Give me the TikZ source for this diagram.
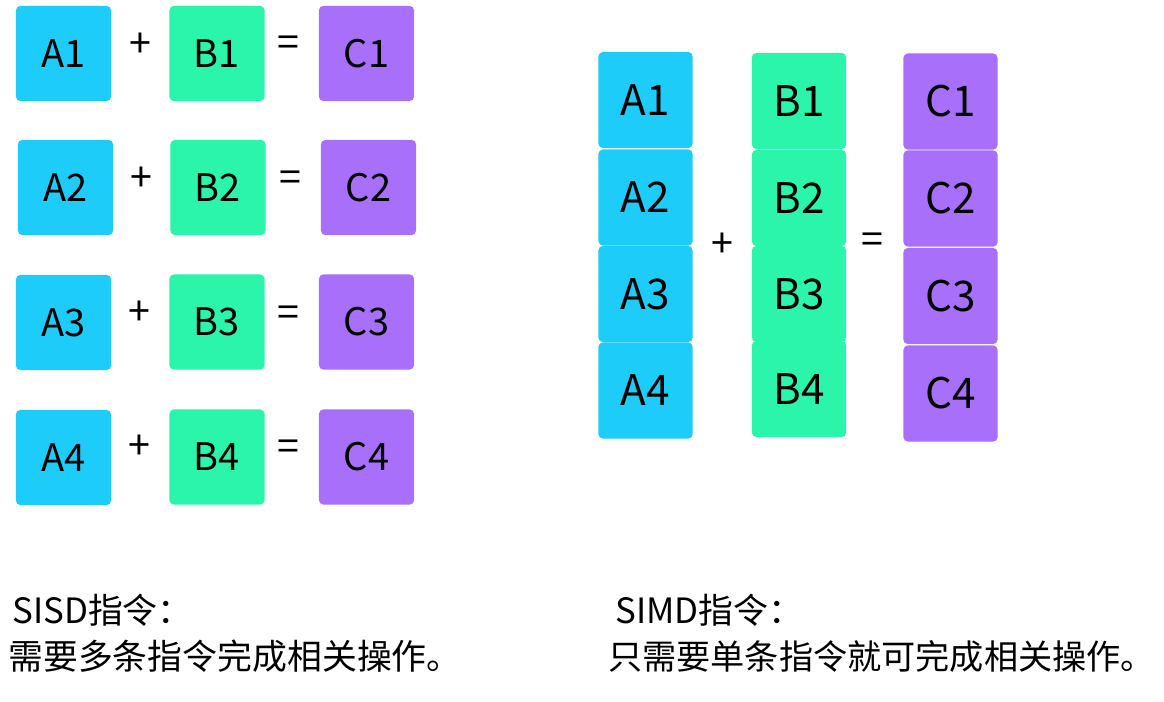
\documentclass[tikz,border=0pt]{standalone}
\usepackage{fontspec}
\setmainfont{Noto Sans CJK SC}
\definecolor{cellA}{RGB}{30,204,250}
\definecolor{cellB}{RGB}{42,245,170}
\definecolor{cellC}{RGB}{168,112,250}
\begin{document}
\begin{tikzpicture}[
	x=0.025cm, y=-0.025cm,
	cell/.style={ rounded corners=3pt, inner sep=0pt, minimum width=2.375cm, minimum height=2.375cm, font=\fontsize{27}{27}\selectfont },
	cellv/.style={ rounded corners=3pt, inner sep=0pt, minimum width=2.35cm, minimum height=2.4cm, font=\fontsize{30}{30}\selectfont },
	cella/.style={ fill=cellA },
	cellb/.style={ fill=cellB },
	cellc/.style={ fill=cellC },
	op/.style={ inner sep=0pt, font=\fontsize{28}{28}\selectfont },
	caption/.style={ anchor=west, inner sep=0pt, font=\fontsize{24.8}{24.8}\selectfont },
	captionr/.style={ anchor=west, inner sep=0pt, font=\fontsize{24.3}{24.3}\selectfont }
]
\useasboundingbox[fill=white] (0,0) rectangle (1164,702);

% SISD: one row per instruction
\node[cell, cella] at (63.5,53.5) (sa1) {A1};
\node[op] at (140,45) (sp1) {+};
\node[cell, cellb] at (217,53.5) (sb1) {B1};
\node[op] at (288,46) (se1) {=};
\node[cell, cellc] at (366.5,53.5) (sc1) {C1};

\node[cell, cella] at (65.5,187.5) (sa2) {A2};
\node[op] at (141,179) (sp2) {+};
\node[cell, cellb] at (218,187.5) (sb2) {B2};
\node[op] at (290,181) (se2) {=};
\node[cell, cellc] at (368.5,187.5) (sc2) {C2};

\node[cell, cella] at (63.5,322.5) (sa3) {A3};
\node[op] at (139,313) (sp3) {+};
\node[cell, cellb] at (217,322) (sb3) {B3};
\node[op] at (288,316) (se3) {=};
\node[cell, cellc] at (366.5,322) (sc3) {C3};

\node[cell, cella] at (63.5,457.5) (sa4) {A4};
\node[op] at (139,447) (sp4) {+};
\node[cell, cellb] at (217,457) (sb4) {B4};
\node[op] at (288,450) (se4) {=};
\node[cell, cellc] at (366.5,457) (sc4) {C4};

% SIMD: whole columns at once
\node[cellv, cella] at (645.5,100) (va1) {A1};
\node[cellv, cella] at (645.5,197.5) (va2) {A2};
\node[cellv, cella] at (645.5,294) (va3) {A3};
\node[cellv, cella] at (645.5,390.5) (va4) {A4};
\node[op] at (722,245) (vp) {+};
\node[cellv, cellb] at (799,101) (vb1) {B1};
\node[cellv, cellb] at (799,198) (vb2) {B2};
\node[cellv, cellb] at (799,294) (vb3) {B3};
\node[cellv, cellb] at (799,389) (vb4) {B4};
\node[op] at (872,243) (ve) {=};
\node[cellv, cellc] at (950.5,101.5) (vc1) {C1};
\node[cellv, cellc] at (950.5,198.5) (vc2) {C2};
\node[cellv, cellc] at (950.5,296) (vc3) {C3};
\node[cellv, cellc] at (950.5,393.5) (vc4) {C4};

\node[caption] at (12,610) (sisd) {SISD指令：};
\node[caption] at (8,656) (sisdtext) {需要多条指令完成相关操作。};
\node[caption] at (615,610) (simd) {SIMD指令：};
\node[captionr] at (608,656) (simdtext) {只需要单条指令就可完成相关操作。};

\end{tikzpicture}
\end{document}
